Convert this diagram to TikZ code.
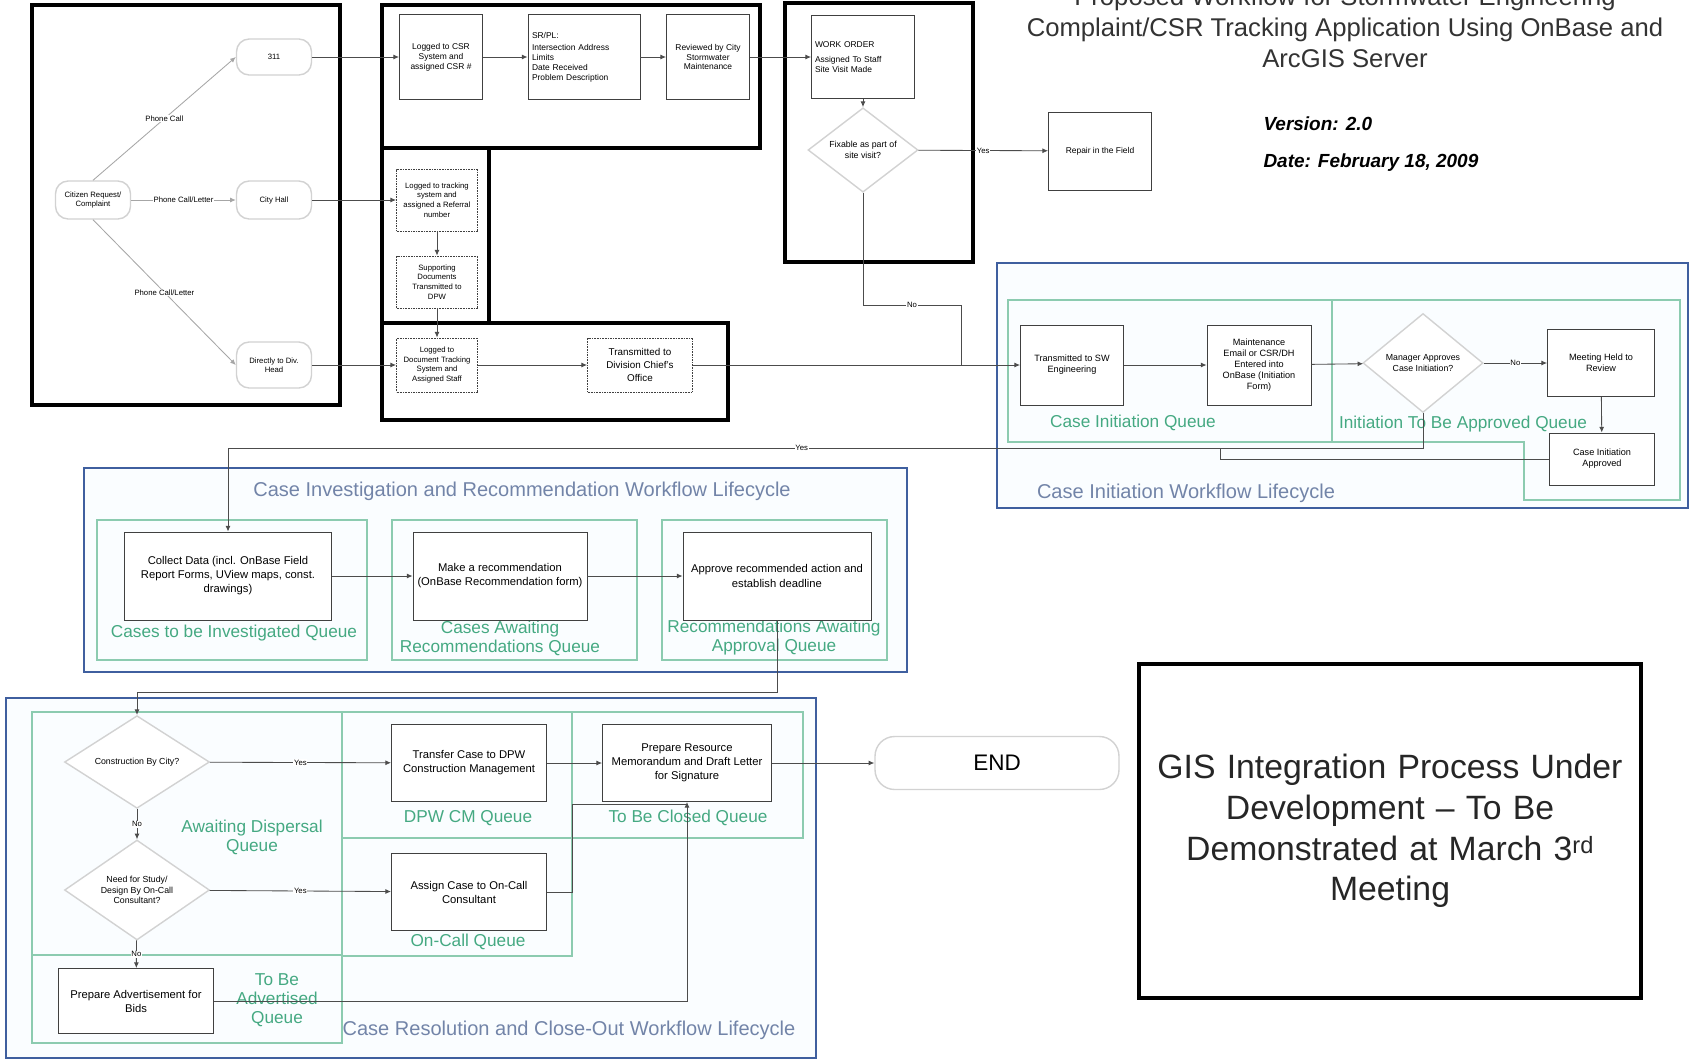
\documentclass[tikz,border=0pt]{standalone}
\usepackage{fontspec}
\setmainfont{Liberation Sans}
\usetikzlibrary{shapes.geometric,arrows.meta}
\definecolor{lifeblue}{HTML}{3F5F9F}
\definecolor{lifetext}{HTML}{7284A8}
\definecolor{queuegreen}{HTML}{8CCBB0}
\definecolor{queuetext}{HTML}{45A982}
\definecolor{shapegray}{HTML}{D2D2D2}

\begin{document}
\begin{tikzpicture}[x=0.05cm,y=-0.05cm,
        box/.style={draw=black!75,line width=1.3pt,fill=white,align=center,
            inner sep=2pt,font=\fontsize{12}{14}\selectfont},
        bigbox/.style={box,font=\fontsize{16}{20}\selectfont},
        dotbox/.style={box,densely dotted,font=\fontsize{11}{14}\selectfont},
        term/.style={draw=shapegray,line width=2pt,fill=white,rounded corners=18pt,
            align=center,font=\fontsize{11}{13}\selectfont},
        decide/.style={diamond,draw=shapegray,line width=2pt,fill=white,inner sep=0pt,
            align=center,font=\fontsize{12.5}{15}\selectfont},
        frame/.style={draw=black,line width=5pt},
        lifebox/.style={draw=lifeblue,line width=3.5pt,fill=cyan!2},
        queuebox/.style={draw=queuegreen,line width=1.5pt},
        qlabel/.style={text=queuetext,align=center,font=\fontsize{24.5}{27}\selectfont},
        lifelabel/.style={text=lifetext,font=\fontsize{28.5}{32}\selectfont},
        lbl/.style={fill=white,inner sep=1pt,font=\fontsize{11}{13}\selectfont},
        link/.style={draw=black!70,line width=1.2pt},
        flow/.style={link,-{Latex[length=8pt,width=7pt]}},
        flowlight/.style={flow,draw=black!35}]
    \fill[white] (0,0) rectangle (1690,1061);
    \useasboundingbox (0,0) rectangle (1690,1061);

    \node[text=black!80,align=center,font=\fontsize{36.5}{44}\selectfont] (title) at (1345,27)
        {Proposed Workflow for Stormwater Engineering\\Complaint/CSR Tracking Application Using OnBase and\\ArcGIS Server};
    \node[anchor=west,font=\fontsize{27}{30}\selectfont\bfseries\itshape] (version) at (1261,124) {Version: 2.0};
    \node[anchor=west,font=\fontsize{27}{30}\selectfont\bfseries\itshape] (date) at (1261,163) {Date: February 18, 2009};

    \draw[frame] (32,5) rectangle (340,405);
    \draw[frame] (382,5) rectangle (760,148);
    \draw[frame] (382,148) rectangle (489,323);
    \draw[frame] (382,323) rectangle (728,420);
    \draw[frame] (785,3) rectangle (973,262);

    \draw[lifebox] (997,263) rectangle (1688,508);
    \draw[queuebox] (1008,300) rectangle (1332,442);
    \draw[queuebox] (1332,300) -- (1680,300) -- (1680,500) -- (1524,500) -- (1524,442) -- (1332,442) -- cycle;
    \draw[lifebox] (84,468) rectangle (907,672);
    \draw[queuebox] (97,520) rectangle (367,660);
    \draw[queuebox] (392,520) rectangle (637,660);
    \draw[queuebox] (662,520) rectangle (887,660);
    \draw[lifebox] (6,698) rectangle (816,1058);
    \draw[queuebox] (32,712) rectangle (342,1043);
    \draw[queuebox] (32,955) -- (342,955);
    \draw[queuebox] (342,712) rectangle (572,838);
    \draw[queuebox] (342,838) rectangle (572,956);
    \draw[queuebox] (572,712) rectangle (803,838);

    \node[lifelabel] (initlife) at (1186,493) {Case Initiation Workflow Lifecycle};
    \node[lifelabel] (invlife) at (522,491) {Case Investigation and Recommendation Workflow Lifecycle};
    \node[lifelabel] (reslife) at (569,1030) {Case Resolution and Close-Out Workflow Lifecycle};
    \node[qlabel] (initq) at (1133,423) {Case Initiation Queue};
    \node[qlabel] (apprq) at (1463,424) {Initiation To Be Approved Queue};
    \node[qlabel] (invq) at (234,633) {Cases to be Investigated Queue};
    \node[qlabel] (recq) at (500,638) {Cases Awaiting\\Recommendations Queue};
    \node[qlabel] (appq) at (774,638) {Recommendations Awaiting\\Approval Queue};
    \node[qlabel] (dispq) at (252,837) {Awaiting Dispersal\\Queue};
    \node[qlabel] (advq) at (277,1000) {To Be\\Advertised\\Queue};
    \node[qlabel] (cmq) at (468,818) {DPW CM Queue};
    \node[qlabel] (callq) at (468,942) {On-Call Queue};
    \node[qlabel] (closeq) at (688,818) {To Be Closed Queue};

    \node[term,minimum width=3.75cm,minimum height=1.9cm] (citizen) at (93,200) {Citizen Request/\\Complaint};
    \node[term,minimum width=3.75cm,minimum height=1.8cm] (t311) at (274,57) {311};
    \node[term,minimum width=3.75cm,minimum height=1.9cm] (cityhall) at (274,200) {City Hall};
    \node[term,minimum width=3.75cm,minimum height=2.3cm] (divhead) at (274,365) {Directly to Div.\\Head};

    \node[box,minimum width=4.15cm,minimum height=4.25cm] (csr) at (441,57) {Logged to CSR\\System and\\assigned CSR \#};
    \node[box,minimum width=5.6cm,minimum height=4.25cm,text width=5.2cm,align=left] (srinfo) at (584,57)
        {SR/PL:\\[4pt]Intersection Address\\Limits\\Date Received\\Problem Description};
    \node[box,minimum width=4.15cm,minimum height=4.25cm] (reviewed) at (708,57) {Reviewed by City\\Stormwater\\Maintenance};
    \node[box,minimum width=5.15cm,minimum height=4.15cm,text width=4.8cm,align=left] (workorder) at (863,57)
        {WORK ORDER\\[8pt]Assigned To Staff\\Site Visit Made};
    \node[decide,minimum width=5.5cm,minimum height=3.7cm] (fixable) at (863,150) {Fixable as part of\\site visit?};
    \node[box,minimum width=5.15cm,minimum height=3.9cm] (repair) at (1100,151) {Repair in the Field};

    \node[dotbox,minimum width=4.05cm,minimum height=3.1cm] (tracking) at (437,200) {Logged to tracking\\system and\\assigned a Referral\\number};
    \node[dotbox,minimum width=4.05cm,minimum height=2.6cm] (supporting) at (437,282) {Supporting\\Documents\\Transmitted to\\DPW};
    \node[dotbox,minimum width=4.05cm,minimum height=2.7cm] (logdoc) at (437,365) {Logged to\\Document Tracking\\System and\\Assigned Staff};
    \node[box,densely dotted,font=\fontsize{14}{18.5}\selectfont,minimum width=5.25cm,minimum height=2.7cm] (chief) at (640,365) {Transmitted to\\Division Chief's\\Office};

    \node[box,font=\fontsize{13}{15.5}\selectfont,minimum width=5.15cm,minimum height=4cm] (swe) at (1072,365) {Transmitted to SW\\Engineering};
    \node[box,font=\fontsize{13}{15.5}\selectfont,minimum width=5.2cm,minimum height=4cm] (maint) at (1259,365)
        {Maintenance\\Email or CSR/DH\\Entered into\\OnBase (Initiation\\Form)};
    \node[decide,minimum width=6cm,minimum height=4.95cm] (mgr) at (1423,363) {Manager Approves\\Case Initiation?};
    \node[box,font=\fontsize{13}{15.5}\selectfont,minimum width=5.35cm,minimum height=3.35cm] (meeting) at (1601,363) {Meeting Held to\\Review};
    \node[box,font=\fontsize{13}{15.5}\selectfont,minimum width=5.25cm,minimum height=2.6cm] (approved) at (1602,459) {Case Initiation\\Approved};

    \node[bigbox,minimum width=10.35cm,minimum height=4.4cm] (collect) at (228,576)
        {Collect Data (incl. OnBase Field\\Report Forms, UView maps, const.\\drawings)};
    \node[bigbox,minimum width=8.7cm,minimum height=4.4cm] (recommend) at (500,576) {Make a recommendation\\(OnBase Recommendation form)};
    \node[bigbox,minimum width=9.4cm,minimum height=4.4cm] (approve) at (777,576) {Approve recommended action and\\establish deadline};

    \node[decide,minimum width=7.25cm,minimum height=3.55cm] (city) at (137,762) {Construction By City?};
    \node[decide,minimum width=7.25cm,minimum height=5cm] (study) at (137,890) {Need for Study/\\Design By On-Call\\Consultant?};
    \node[bigbox,minimum width=7.75cm,minimum height=3.25cm] (advert) at (136,1001) {Prepare Advertisement for\\Bids};
    \node[bigbox,minimum width=7.75cm,minimum height=3.85cm] (transfer) at (469,763) {Transfer Case to DPW\\Construction Management};
    \node[bigbox,minimum width=7.75cm,minimum height=3.85cm] (assign) at (469,892) {Assign Case to On-Call\\Consultant};
    \node[bigbox,minimum width=8.45cm,minimum height=3.85cm] (prepare) at (687,763) {Prepare Resource\\Memorandum and Draft Letter\\for Signature};
    \node[term,font=\fontsize{32}{36}\selectfont,rounded corners=28pt,minimum width=12.2cm,minimum height=2.65cm] (finish) at (997,763) {END};

    \node[draw,line width=5pt,minimum width=25.1cm,minimum height=16.7cm,text width=24.6cm,align=center,
        text=black!85,font=\fontsize{48}{58}\selectfont] (gis) at (1390,831)
        {GIS Integration Process Under\\Development – To Be\\Demonstrated at March 3\textsuperscript{rd}\\Meeting};

    \draw[flowlight] (citizen.north) -- node[lbl]{Phone Call} (t311.west);
    \draw[flowlight] (citizen.east) -- node[lbl]{Phone Call/Letter} (cityhall.west);
    \draw[flowlight] (citizen.south) -- node[lbl]{Phone Call/Letter} (divhead.west);
    \draw[flow] (t311) -- (csr);
    \draw[flow] (csr) -- (srinfo);
    \draw[flow] (srinfo) -- (reviewed);
    \draw[flow] (reviewed) -- (workorder);
    \draw[flow] (workorder) -- (fixable);
    \draw[flow] (fixable) -- node[lbl]{Yes} (repair);
    \draw[link] (fixable.south) -- (863,305) -- node[lbl]{No} (961,305) -- (961,365);
    \draw[flow] (cityhall) -- (tracking);
    \draw[flow] (tracking) -- (supporting);
    \draw[flow] (supporting) -- (logdoc);
    \draw[flow] (divhead) -- (logdoc);
    \draw[flow] (logdoc) -- (chief);
    \draw[flow] (chief) -- (swe);
    \draw[flow] (swe) -- (maint);
    \draw[flow] (maint) -- (mgr);
    \draw[flow] (mgr) -- node[lbl]{No} (meeting);
    \draw[flow] (meeting) -- (approved);
    \draw[flow] (mgr.south) -- (1423,448) -- node[lbl,pos=0.52]{Yes} (228,448) -- (collect.north);
    \draw[link] (approved.west) -| (1220,448);
    \draw[flow] (collect) -- (recommend);
    \draw[flow] (recommend) -- (approve);
    \draw[flow] (approve.south) -- (777,692) -- (137,692) -- (city.north);
    \draw[flow] (city) -- node[lbl]{Yes} (transfer);
    \draw[flow] (city) -- node[lbl]{No} (study);
    \draw[flow] (study) -- node[lbl]{Yes} (assign);
    \draw[flow] (study) -- node[lbl]{No} (advert);
    \draw[flow] (transfer) -- (prepare);
    \draw[link] (assign.east) -- (572,892) -- (572,804) -- (687,804);
    \draw[flow] (advert.east) -| (prepare.south);
    \draw[flow] (prepare) -- (finish);
\end{tikzpicture}
\end{document}
